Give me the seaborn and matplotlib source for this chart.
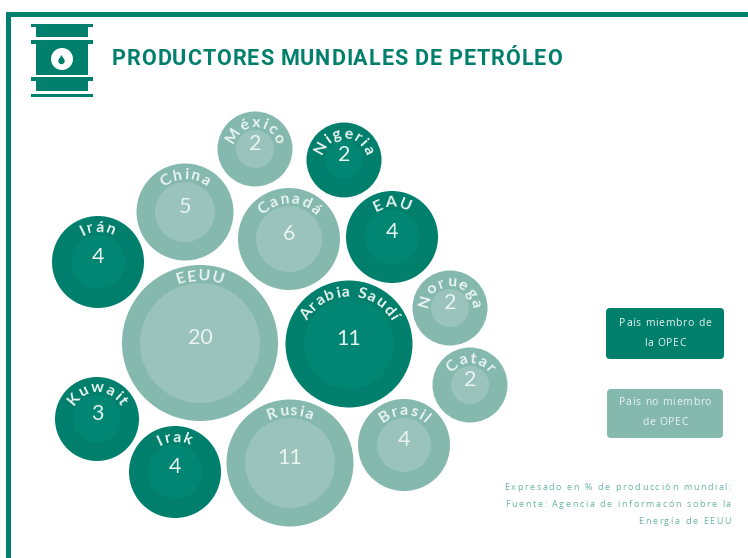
import numpy as np
import pandas as pd
import matplotlib
matplotlib.use('Agg')
import matplotlib.pyplot as plt
import seaborn as sns
from matplotlib import font_manager
from matplotlib.font_manager import FontProperties
from matplotlib.ft2font import LoadFlags
from matplotlib.patches import Rectangle, Circle, FancyBboxPatch, Polygon

# Chart values
countries = ['México', 'Nigeria', 'China', 'Canadá', 'EAU', 'Irán', 'EEUU', 'Arabia Saudí',
             'Noruega', 'Catar', 'Brasil', 'Rusia', 'Irak', 'Kuwait']
production = [2, 2, 5, 6, 4, 4, 20, 11, 2, 2, 4, 11, 4, 3]
opec_member = ['no', 'si', 'no', 'no', 'si', 'si', 'no', 'si', 'no', 'no', 'no', 'no', 'si', 'si']
bubble_x = [255, 344, 185, 289, 392, 98, 200, 349, 450, 470, 404, 290, 175, 97]
bubble_y = [149, 160, 212, 239, 237, 262, 343, 344, 308, 385, 445, 463, 472, 419]

# Radius in pixels for each production value
outer_radius = {2: 37.5, 3: 42, 4: 46, 5: 48.5, 6: 51, 11: 63.5, 20: 78}
inner_radius = {2: 19, 3: 24, 4: 27, 5: 30, 6: 33, 11: 45, 20: 60}

DARK = '#00806C'
DARK_INNER = '#008672'
LIGHT = '#85B9AE'
LIGHT_INNER = '#99C3BB'
TEXT_LIGHT = '#EAF4F1'
PX = 100 / 72  # pixels per point


def area(radius):
    # scatter sizes are in points squared
    return (2 * radius / PX) ** 2


def advance(ch, prop, size):
    font = font_manager.get_font(font_manager.findfont(prop))
    font.set_size(size, 72)
    glyph = font.load_char(ord(ch), flags=LoadFlags.NO_HINTING)
    return glyph.linearHoriAdvance / 65536 * PX


def tracked(ax, s, x, y, size, color, tracking=1.0, align='center', family='Open Sans',
            weight='normal', alpha=1.0):
    # matplotlib has no letter spacing, so place the glyphs one at a time
    prop = FontProperties(family=family, weight=weight)
    widths = [advance(c, prop, size) + tracking for c in s]
    total = sum(widths) - tracking
    start = {'center': x - total / 2, 'right': x - total, 'left': x}[align]
    for ch, w in zip(s, widths):
        ax.text(start, y, ch, fontproperties=prop, fontsize=size, color=color, alpha=alpha,
                ha='left', va='baseline')
        start += w


def arc_text(ax, s, cx, cy, radius, size, color, tracking=1.0, family='Lato', weight='bold'):
    prop = FontProperties(family=family, weight=weight)
    widths = [advance(c, prop, size) + tracking for c in s]
    total = sum(widths)
    pos = -total / 2
    for ch, w in zip(s, widths):
        theta = (pos + w / 2) / radius
        ax.text(cx + radius * np.sin(theta), cy - radius * np.cos(theta), ch,
                fontproperties=prop, fontsize=size, color=color,
                rotation=-np.degrees(theta), rotation_mode='anchor',
                ha='center', va='baseline')
        pos += w


sns.set_theme(style='white')
plt.rcParams['font.family'] = ['Open Sans', 'DejaVu Sans']

df = pd.DataFrame({'pais': countries, 'valor': production, 'opec': opec_member,
                   'x': bubble_x, 'y': bubble_y})

fig = plt.figure(figsize=(7.48, 5.58), dpi=100)
ax = fig.add_axes([0, 0, 1, 1])

sns.scatterplot(data=df, x='x', y='y', hue='opec', palette={'si': DARK, 'no': LIGHT},
                size='valor', sizes={k: area(v) for k, v in outer_radius.items()},
                linewidth=0, legend=False, ax=ax)
sns.scatterplot(data=df, x='x', y='y', hue='opec', palette={'si': DARK_INNER, 'no': LIGHT_INNER},
                size='valor', sizes={k: area(v) for k, v in inner_radius.items()},
                linewidth=0, legend=False, ax=ax)

ax.set_xlim(0, 748)
ax.set_ylim(558, 0)
ax.axis('off')

for _, row in df.iterrows():
    r_out = outer_radius[row['valor']]
    r_in = inner_radius[row['valor']]
    arc_text(ax, row['pais'], row['x'], row['y'], (r_out + r_in) / 2 - 6.5, 11.5, TEXT_LIGHT, tracking=1.2)
    ax.text(row['x'], row['y'] + 1, str(row['valor']), ha='center', va='baseline',
            fontsize=15.5, color=TEXT_LIGHT, family='Lato')

# Frame
ax.add_patch(Rectangle((6, 12), 742, 5, color=DARK, lw=0))
ax.add_patch(Rectangle((6, 12), 5, 546, color=DARK, lw=0))

# Barrel icon
for y0, h in [(24, 3), (40, 4), (77, 4), (94, 3)]:
    ax.add_patch(Rectangle((31, y0), 62, h, color=DARK, lw=0))
for y0, h in [(27, 10), (44, 31), (81, 10)]:
    ax.add_patch(Rectangle((36, y0), 52, h, color=DARK, lw=0))
ax.add_patch(Circle((62, 59), 11, color='white', lw=0))
ax.add_patch(Circle((61.5, 61), 3.2, color=DARK, lw=0))
ax.add_patch(Polygon([[61.5, 55], [58.8, 59.5], [64.2, 59.5]], color=DARK, lw=0))

# Title
tracked(ax, 'PRODUCTORES MUNDIALES DE PETRÓLEO', 112, 65, 15.5, DARK, tracking=0.9,
        align='left', family='Roboto', weight='bold')

# Legend boxes
for (x0, y0, w, h), col in [((606, 308, 118, 51), DARK), ((607, 389, 116, 49), LIGHT)]:
    ax.add_patch(FancyBboxPatch((x0 + 4, y0 + 4), w - 8, h - 8, boxstyle='round,pad=4,rounding_size=4',
                                fc=col, ec='none', lw=0))
tracked(ax, 'País miembro de', 665, 326, 7.5, TEXT_LIGHT, tracking=0.7)
tracked(ax, 'la OPEC', 665, 346, 7.5, TEXT_LIGHT, tracking=0.7)
tracked(ax, 'País no miembro', 665, 405, 7.5, TEXT_LIGHT, tracking=0.7)
tracked(ax, 'de OPEC', 665, 425, 7.5, TEXT_LIGHT, tracking=0.7)

# Source note
tracked(ax, 'Expresado en % de producción mundial:', 731, 490, 6.5, DARK, tracking=1.6,
        align='right', alpha=0.6)
tracked(ax, 'Fuente: Agencia de informacón sobre la', 731, 507, 6.5, DARK, tracking=1.6,
        align='right', alpha=0.6)
tracked(ax, 'Energía de EEUU', 731, 524, 6.5, DARK, tracking=1.6, align='right', alpha=0.6)

fig.savefig('out.png', dpi=100)
plt.close(fig)
